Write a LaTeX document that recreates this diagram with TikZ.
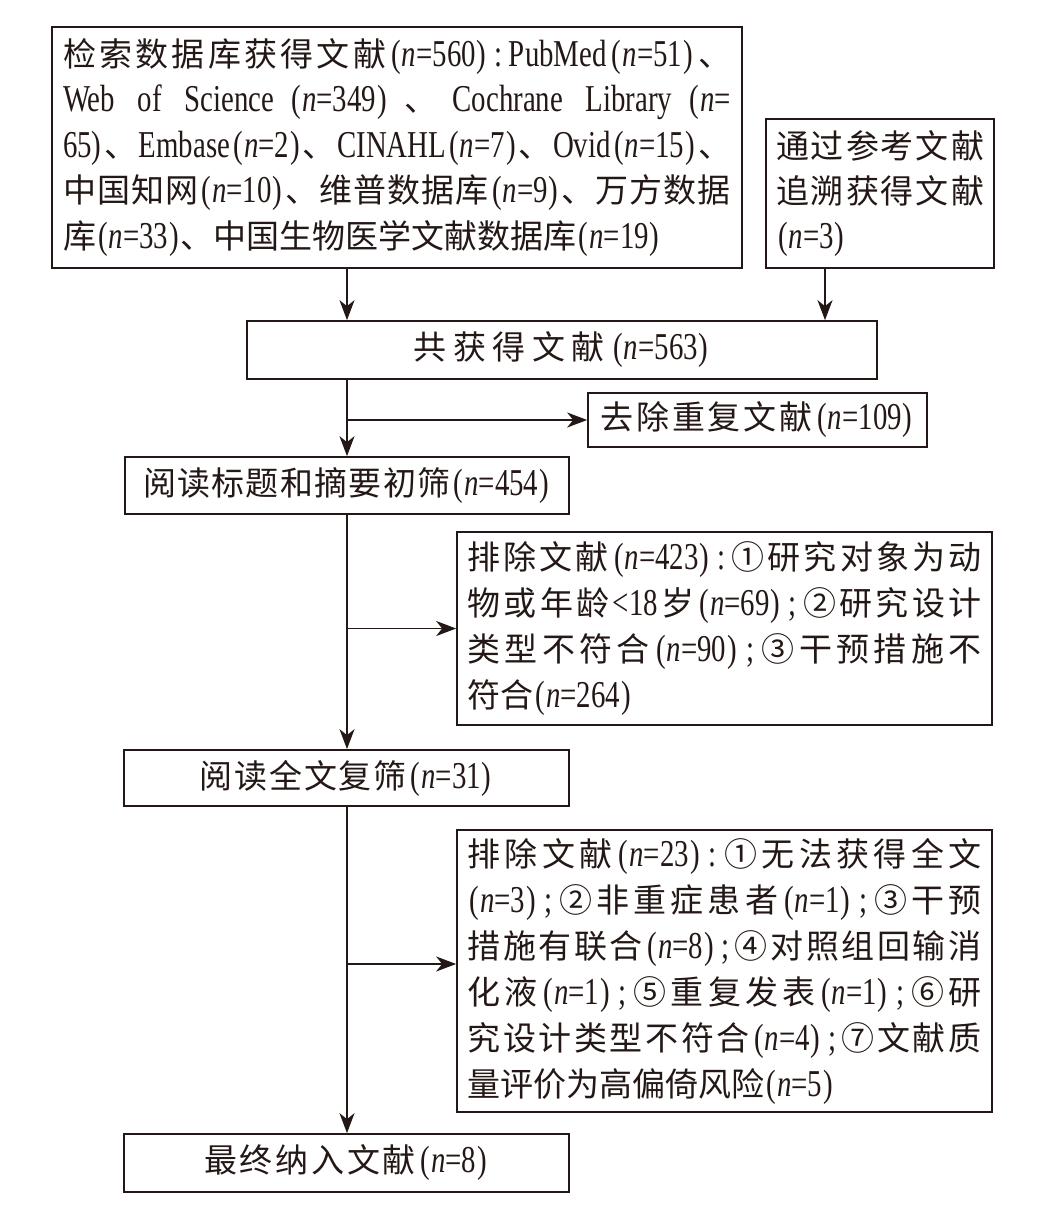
\documentclass[tikz,border=0pt]{standalone}
\usepackage{fontspec}
\setmainfont{Noto Sans CJK SC}
\newfontfamily\latf{Liberation Serif}[Scale=1.15,FakeStretch=0.76]
\usetikzlibrary{arrows.meta}
\definecolor{ink}{RGB}{35,24,21}
\makeatletter
\newcommand\jl[2]{\hbox to #1{\jl@a#2\jl@end}}
\def\jl@endmark{\jl@end}
\def\jl@a#1{{#1}\jl@b}
\def\jl@b#1{\def\jl@tmp{#1}\ifx\jl@tmp\jl@endmark\else\hfil{#1}\expandafter\jl@b\fi}
\makeatother
\newcommand\lt[1]{{\latf #1}}
\newcommand\nq[1]{\lt{\kern2pt(\kern1pt\textit{n}=#1\kern1pt)\kern2pt}}
\newcommand\cln{\lt{\kern3pt:\kern3pt}}
\newcommand\smc{\lt{\kern3pt;\kern3pt}}
\begin{document}
\begin{tikzpicture}[x=1pt,y=-1pt,
  box/.style={draw=ink, line width=1.7pt, inner sep=0pt, text=ink, font=\fontsize{33}{46}\selectfont},
  arr/.style={draw=ink, line width=1.7pt, -{Stealth[length=20pt,width=15pt,inset=6pt]}}]
\useasboundingbox (0,0) rectangle (1038,1207);

\node[box, minimum width=690pt, minimum height=241pt] (b1) at (397,147.5) {\vbox{\baselineskip=45.5pt
\jl{668pt}{检索数据库获得文献{\nq{560}}{\cln}{\lt{PubMed}}{\nq{51}}、}
\jl{668pt}{{\lt{Web }}{\lt{of }}{\lt{Science}}{\nq{349}}、{\lt{Cochrane }}{\lt{Library}}{\lt{\kern2pt(\kern1pt\textit{n}=}}}
\jl{668pt}{{\lt{65)\kern2pt}}、{\lt{Embase}}{\nq{2}}、{\lt{CINAHL}}{\nq{7}}、{\lt{Ovid}}{\nq{15}}、}
\jl{668pt}{中国知网{\nq{10}}、维普数据库{\nq{9}}、万方数据}
\hbox{库\nq{33}、中国生物医学文献数据库\nq{19}}}};

\node[box, minimum width=228pt, minimum height=149pt] (b2) at (880,193.5) {\vbox{\baselineskip=45pt
\jl{208pt}{通过参考文献}
\jl{208pt}{追溯获得文献}
\hbox{\nq{3}}}};

\node[box, minimum width=630pt, minimum height=58pt] (b3) at (562,350) {\jl{297pt}{共获得文献{\nq{563}}}};
\node[box, minimum width=339pt, minimum height=54pt] (b5) at (757.5,420) {\jl{314pt}{去除重复文献{\nq{109}}}};
\node[box, minimum width=444pt, minimum height=57pt] (b4) at (347,485.5) {\jl{408pt}{阅读标题和摘要初筛{\nq{454}}}};

\node[box, minimum width=535pt, minimum height=193pt] (b7) at (724.5,628.5) {\vbox{\baselineskip=46pt
\jl{514pt}{排除文献{\nq{423}}{\cln}①研究对象为动}
\jl{514pt}{物或年龄{\lt{<18}}岁{\nq{69}}{\smc}②研究设计}
\jl{514pt}{类型不符合{\nq{90}}{\smc}③干预措施不}
\hbox{符合\nq{264}}}};

\node[box, minimum width=445pt, minimum height=56pt] (b6) at (346.5,778) {\jl{294pt}{阅读全文复筛{\nq{31}}}};

\node[box, minimum width=535pt, minimum height=282pt] (b9) at (724.5,971) {\vbox{\baselineskip=46pt
\jl{514pt}{排除文献{\nq{23}}{\cln}①无法获得全文}
\jl{514pt}{{\nq{3}}{\smc}②非重症患者{\nq{1}}{\smc}③干预}
\jl{514pt}{措施有联合{\nq{8}}{\smc}④对照组回输消}
\jl{514pt}{化液{\nq{1}}{\smc}⑤重复发表{\nq{1}}{\smc}⑥研}
\jl{514pt}{究设计类型不符合{\nq{4}}{\smc}⑦文献质}
\hbox{量评价为高偏倚风险\nq{5}}}};

\node[box, minimum width=445pt, minimum height=58pt] (b8) at (346.5,1163) {\jl{285pt}{最终纳入文献{\nq{8}}}};

\coordinate (sp) at (347,0);
\coordinate (c2) at (825,0);
\coordinate (k9) at (0,964);
\draw[arr] (b1.south -| sp) -- (b3.north -| sp);
\draw[arr] (b2.south -| c2) -- (b3.north -| c2);
\draw[arr] (b3.south -| sp) -- (b4.north -| sp);
\draw[arr] (b5.west -| sp) -- (b5.west);
\draw[arr] (b4.south -| sp) -- (b6.north -| sp);
\draw[arr] (b7.west -| sp) -- (b7.west);
\draw[arr] (b6.south -| sp) -- (b8.north -| sp);
\draw[arr] (sp |- k9) -- (b9.west |- k9);
\end{tikzpicture}
\end{document}
